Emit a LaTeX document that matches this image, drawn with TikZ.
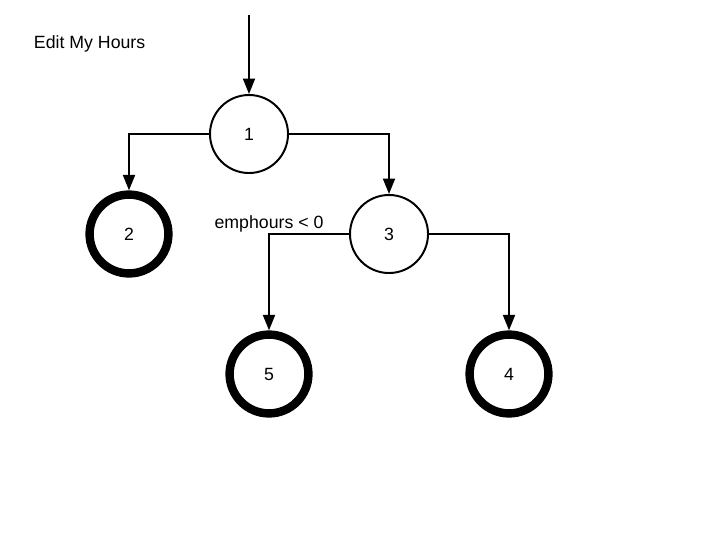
\documentclass[tikz,border=0pt]{standalone}
\usepackage{fontspec}
\setmainfont{Liberation Sans}
\usetikzlibrary{arrows.meta}

\begin{document}
\begin{tikzpicture}[x=0.025cm,y=-0.025cm,->,>={Triangle[length=11pt,width=8.5pt]},
                    line width=1.4pt,auto]
\tikzstyle{every node}=[font=\fontsize{12.6}{15}\selectfont]
\tikzstyle{test}=[circle,draw,line width=1.4pt,minimum size=1.95cm,inner sep=0pt]
\tikzstyle{final}=[circle,draw,line width=6pt,minimum size=1.97cm,inner sep=0pt]
\useasboundingbox (0,0) rectangle (720,546);

\node [anchor=west,inner sep=0pt] (title) at (33,44) {Edit My Hours};
\coordinate (start) at (249,15);

\node [test] (1) at (249,134) {1};
\node [final] (2) at (129,234) {2};
\node [test] (3) at (389,234) {3};
\node [final] (5) at (269,374) {5};
\node [final] (4) at (509,374) {4};

\draw (start) -- (1);
\draw (1.west) -| (2);
\draw (1.east) -| (3);
\draw (3.west) -| node [pos=0.5,above,inner sep=0.5pt] {emphours < 0} (5);
\draw (3.east) -| (4);

\end{tikzpicture}
\end{document}
